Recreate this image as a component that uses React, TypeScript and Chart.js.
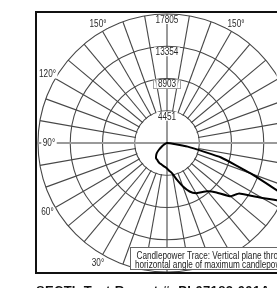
import React, { useEffect, useRef } from "react";
import { Chart, registerables } from "chart.js";

Chart.register(...registerables);

// ---- data ----
const verticalAngles = [
  0, 5, 10, 15, 20, 25, 30, 35, 40, 45, 50, 55, 60, 65, 70, 75, 80, 85, 90,
  95, 100, 105, 110, 115, 120, 125, 130, 135, 140, 145, 150, 155, 160, 165,
  170, 175, 180,
];
// candela in the vertical plane, right half (toward max candlepower)
const candelaRight = [
  3520, 3865, 4280, 5245, 6350, 7385, 8005, 8280, 8695, 9660, 11455, 12145,
  15180, 19325, 12285, 7730, 2900, 275, 0, 0, 0, 0, 0, 0, 0, 0, 0, 0, 0, 0, 0,
  0, 0, 0, 0, 0, 0,
];
// candela in the vertical plane, left half
const candelaLeft = [
  3520, 3310, 3175, 3035, 2965, 2845, 2690, 2620, 2345, 2015, 1450, 900, 550,
  275, 70, 0, 0, 0, 0, 0, 0, 0, 0, 0, 0, 0, 0, 0, 0, 0, 0, 0, 0, 0, 0, 0, 0,
];
const ringTicks = [4451, 8903, 13354, 17805];
const angleLabels = [30, 60, 90, 120, 150];
const legendLines = [
  "Candlepower Trace: Vertical plane through",
  "horizontal angle of maximum candlepower",
];
const footerText = "SECTL Test Report #: PL07182-001A";

// ---- styling ----
const CANVAS_W = 320;
const CANVAS_H = 288;
const GRID = "#474747";
const FONT = '"Liberation Sans", "DejaVu Sans", sans-serif';
const SQUEEZE = 0.82;
const STEP = 5;
const N = 360 / STEP;

// radar labels: index 0 at top (180°), clockwise
const labels: string[] = [];
const values: number[] = [];
for (let k = 0; k < N; k++) {
  const cw = k * STEP;
  if (cw <= 180) {
    const th = 180 - cw;
    labels.push(th + "°");
    values.push(candelaRight[verticalAngles.indexOf(th)]);
  } else {
    const th = cw - 180;
    labels.push(th + "°");
    values.push(candelaLeft[verticalAngles.indexOf(th)]);
  }
}

function narrowText(ctx: any, txt: string, x: number, y: number, align: string) {
  ctx.save();
  ctx.translate(x, y);
  ctx.scale(SQUEEZE, 1);
  ctx.textAlign = align;
  ctx.fillText(txt, 0, 0);
  ctx.restore();
}

const decorPlugin = {
  id: "polarDecor",
  beforeDatasetsDraw(chart: any) {
    const s = chart.scales.r;
    const ctx = chart.ctx;
    const cx = s.xCenter;
    const cy = s.yCenter;
    const R = s.drawingArea;
    const r1 = s.getDistanceFromCenterForValue(s.ticks[1].value);
    ctx.save();
    ctx.fillStyle = "#fff";
    ctx.beginPath();
    ctx.arc(cx, cy, r1 - 0.7, 0, Math.PI * 2);
    ctx.fill();
    // horizontal axis line
    ctx.strokeStyle = "#9a9a9a";
    ctx.lineWidth = 2;
    ctx.beginPath();
    ctx.moveTo(cx - R - 2, cy);
    ctx.lineTo(cx + R + 2, cy);
    ctx.stroke();
    // vertical axis line
    ctx.strokeStyle = GRID;
    ctx.lineWidth = 1.1;
    ctx.beginPath();
    ctx.moveTo(cx, cy - R);
    ctx.lineTo(cx, cy + R);
    ctx.stroke();
    ctx.restore();
  },
  afterDraw(chart: any) {
    const s = chart.scales.r;
    const ctx = chart.ctx;
    const cx = s.xCenter;
    const cy = s.yCenter;
    const R = s.drawingArea;
    ctx.save();
    ctx.font = `10px ${FONT}`;
    ctx.textBaseline = "middle";

    // ring value labels
    s.ticks.forEach((t: any, i: number) => {
      if (i === 0) return;
      const d = s.getDistanceFromCenterForValue(t.value);
      const y = cy - d + 5.5;
      const txt = String(Math.round(t.value));
      const w = ctx.measureText(txt).width * SQUEEZE;
      ctx.fillStyle = "#fff";
      ctx.fillRect(cx - w / 2 - 1.5, y - 4.5, w + 3, 9);
      if (i === 2) {
        ctx.strokeStyle = "#a0a0a0";
        ctx.lineWidth = 1;
        ctx.strokeRect(cx - 13.5, y - 4.5, 27, 9);
      }
      ctx.fillStyle = "#2a2a2a";
      narrowText(ctx, txt, cx, y + 0.5, "center");
    });

    // angle labels (both sides)
    angleLabels.forEach((a) => {
      const dist = a === 90 ? R - 11 : R + 9;
      [(180 - a) / STEP, (180 + a) / STEP].forEach((k) => {
        const p = s.getPointPosition(k, dist);
        const txt = a + "°";
        const w = ctx.measureText(txt).width * SQUEEZE;
        ctx.fillStyle = "#fff";
        ctx.fillRect(p.x - w / 2 - 1.5, p.y - 4.5, w + 3, 9);
        ctx.fillStyle = "#2a2a2a";
        narrowText(ctx, txt, p.x, p.y + 0.5, "center");
      });
    });

    // outer frame
    ctx.strokeStyle = "#111";
    ctx.lineWidth = 2;
    ctx.strokeRect(cx - R - 2, cy - R - 2, 2 * R + 4, 2 * R + 3);

    // legend box
    const lx = cx - 37;
    const ly = cy + R - 25;
    const lr = cx + R - 2;
    const lb = cy + R - 2;
    ctx.fillStyle = "#fff";
    ctx.fillRect(lx, ly, lr - lx, lb - ly);
    ctx.strokeStyle = "#666";
    ctx.lineWidth = 1;
    ctx.strokeRect(lx + 0.5, ly + 0.5, lr - lx - 1, lb - ly - 1);
    ctx.fillStyle = "#222";
    ctx.font = `10px ${FONT}`;
    narrowText(ctx, legendLines[0], lx + 6.5, ly + 9.5, "left");
    narrowText(ctx, legendLines[1], lx + 5, ly + 18.5, "left");
    ctx.restore();
  },
};

export default function App() {
  const ref = useRef<HTMLCanvasElement | null>(null);
  useEffect(() => {
    if (!ref.current) return;
    const max = ringTicks[ringTicks.length - 1];
    const chart = new Chart(ref.current, {
      type: "radar",
      data: {
        labels,
        datasets: [
          {
            data: values,
            borderColor: "#000",
            borderWidth: 2,
            pointRadius: 0,
            fill: false,
            tension: 0.12,
          },
        ],
      },
      options: {
        animation: false,
        responsive: false,
        events: [],
        layout: {
          padding: { left: 38, top: 14, right: CANVAS_W - 296, bottom: CANVAS_H - 272 },
        },
        plugins: { legend: { display: false }, tooltip: { enabled: false } },
        scales: {
          r: {
            min: 0,
            max,
            ticks: { display: false, stepSize: max / ringTicks.length },
            pointLabels: { display: false },
            grid: { circular: true, color: GRID, lineWidth: 1.1 },
            angleLines: {
              color: GRID,
              lineWidth: (c: any) =>
                c.index % 2 === 0 && c.index % 18 !== 0 ? 1.1 : 0,
            },
          },
        },
      } as any,
      plugins: [decorPlugin],
    });
    return () => chart.destroy();
  }, []);

  return (
    <div
      style={{
        position: "fixed",
        left: 0,
        top: 0,
        width: 277,
        height: 288,
        overflow: "hidden",
        background: "#fff",
      }}
    >
      <canvas
        ref={ref}
        width={CANVAS_W}
        height={CANVAS_H}
        style={{ position: "absolute", left: 0, top: 0, width: CANVAS_W, height: CANVAS_H }}
      />
      <div
        style={{
          position: "absolute",
          left: 36,
          top: 283,
          font: 'bold 13px "Liberation Sans", sans-serif',
          color: "#111",
          whiteSpace: "nowrap",
          letterSpacing: "0.3px",
        }}
      >
        {footerText}
      </div>
    </div>
  );
}
